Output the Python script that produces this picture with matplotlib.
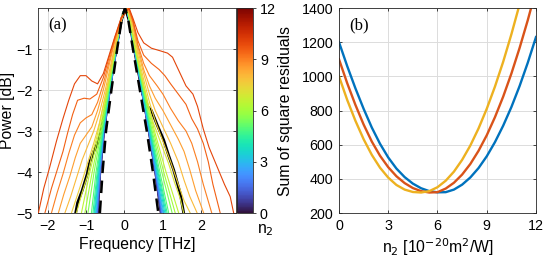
import numpy as np
import matplotlib
matplotlib.use("Agg")
import matplotlib.pyplot as plt
from matplotlib import cm, colors

plt.rcParams['font.family'] = ['Liberation Sans', 'DejaVu Sans']

# ---------------------------------------------------------------
# panel (a): simulated spectra for different n2
# ---------------------------------------------------------------
INNER_N2 = [0, 0.5, 1, 1.5, 2, 2.5, 3, 3.5, 4, 4.5, 5, 5.5, 6, 6.5]
INNER_DB = [0, -0.1, -0.3, -1, -2, -3, -4, -5]
INNER_LEFT = [
    [0.03, -0.03, -0.08, -0.20, -0.37, -0.52, -0.62, -0.68],
    [0.03, -0.03, -0.08, -0.20, -0.37, -0.52, -0.62, -0.69],
    [0.03, -0.03, -0.08, -0.20, -0.37, -0.53, -0.63, -0.70],
    [0.03, -0.03, -0.08, -0.21, -0.38, -0.53, -0.63, -0.71],
    [0.03, -0.03, -0.08, -0.21, -0.38, -0.54, -0.64, -0.72],
    [0.03, -0.03, -0.08, -0.21, -0.38, -0.54, -0.65, -0.73],
    [0.03, -0.03, -0.08, -0.21, -0.39, -0.55, -0.66, -0.75],
    [0.03, -0.03, -0.09, -0.22, -0.39, -0.55, -0.67, -0.77],
    [0.03, -0.03, -0.09, -0.22, -0.40, -0.56, -0.69, -0.79],
    [0.04, -0.03, -0.09, -0.22, -0.40, -0.57, -0.71, -0.82],
    [0.04, -0.03, -0.09, -0.23, -0.41, -0.58, -0.74, -0.86],
    [0.04, -0.03, -0.09, -0.23, -0.42, -0.60, -0.79, -0.95],
    [0.04, -0.03, -0.09, -0.23, -0.43, -0.62, -0.84, -1.03],
    [0.05, -0.02, -0.09, -0.24, -0.44, -0.65, -0.90, -1.12],
]
INNER_RIGHT = [
    [0.03, 0.08, 0.12, 0.25, 0.44, 0.62, 0.79, 0.93],
    [0.03, 0.08, 0.12, 0.25, 0.44, 0.62, 0.79, 0.94],
    [0.03, 0.08, 0.12, 0.25, 0.44, 0.63, 0.80, 0.95],
    [0.03, 0.08, 0.12, 0.25, 0.45, 0.63, 0.80, 0.96],
    [0.03, 0.08, 0.12, 0.26, 0.45, 0.64, 0.81, 0.98],
    [0.03, 0.08, 0.12, 0.26, 0.45, 0.64, 0.82, 1.00],
    [0.03, 0.08, 0.12, 0.26, 0.46, 0.65, 0.83, 1.02],
    [0.03, 0.08, 0.13, 0.26, 0.46, 0.66, 0.85, 1.05],
    [0.03, 0.08, 0.13, 0.27, 0.47, 0.67, 0.87, 1.08],
    [0.04, 0.09, 0.13, 0.27, 0.48, 0.68, 0.89, 1.11],
    [0.04, 0.09, 0.13, 0.27, 0.49, 0.70, 0.92, 1.15],
    [0.04, 0.09, 0.13, 0.28, 0.50, 0.72, 0.97, 1.24],
    [0.04, 0.09, 0.14, 0.28, 0.51, 0.75, 1.02, 1.32],
    [0.05, 0.10, 0.14, 0.29, 0.53, 0.78, 1.08, 1.41],
]

# outer curves: (freq, dB) pairs, left foot -> peak -> right foot
OUTER_N2 = [7, 7.5, 8, 8.5, 9, 9.5, 10]
OUTER_F = [
    [-1.25, -1.10, -0.95, -0.85, -0.72, -0.60, -0.46, -0.32, -0.18, -0.06, 0.06,
     0.17, 0.30, 0.45, 0.60, 0.75, 0.95, 1.15, 1.30, 1.45, 1.54],
    [-1.38, -1.22, -1.08, -0.95, -0.80, -0.65, -0.50, -0.35, -0.20, -0.06, 0.07,
     0.21, 0.35, 0.50, 0.65, 0.80, 1.00, 1.20, 1.40, 1.55, 1.71],
    [-1.55, -1.40, -1.25, -1.10, -0.95, -0.80, -0.65, -0.50, -0.35, -0.20, -0.06, 0.08,
     0.21, 0.35, 0.50, 0.65, 0.80, 1.00, 1.20, 1.40, 1.55, 1.70, 1.89],
    [-1.72, -1.58, -1.42, -1.28, -1.15, -1.00, -0.85, -0.70, -0.55, -0.40, -0.25, -0.08, 0.09,
     0.22, 0.35, 0.50, 0.65, 0.80, 1.00, 1.20, 1.40, 1.55, 1.70, 1.85, 2.06],
    [-1.90, -1.75, -1.60, -1.45, -1.30, -1.15, -1.00, -0.85, -0.70, -0.55, -0.40, -0.25, -0.08, 0.10,
     0.22, 0.35, 0.50, 0.65, 0.85, 1.00, 1.20, 1.40, 1.60, 1.75, 1.90, 2.05, 2.27],
    [-2.07, -1.90, -1.75, -1.60, -1.48, -1.35, -1.22, -1.05, -0.90, -0.72, -0.55, -0.40, -0.25, -0.08, 0.11,
     0.22, 0.35, 0.50, 0.70, 0.90, 1.05, 1.20, 1.40, 1.60, 1.75, 1.90, 2.05, 2.18, 2.30, 2.49],
    [-2.24, -2.10, -1.95, -1.77, -1.60, -1.45, -1.30, -1.15, -1.00, -0.85, -0.70, -0.55, -0.40, -0.25, -0.08, 0.12,
     0.22, 0.35, 0.50, 0.70, 0.95, 1.12, 1.25, 1.40, 1.60, 1.78, 1.90, 2.05, 2.20, 2.40, 2.60, 2.75, 2.84],
]
OUTER_DB = [
    [-5.0, -4.50, -4.05, -3.60, -3.15, -2.60, -2.00, -1.35, -0.70, -0.20, 0.0,
     -0.35, -1.05, -1.70, -2.30, -2.80, -3.30, -3.80, -4.25, -4.65, -5.0],
    [-5.0, -4.55, -4.15, -3.75, -3.30, -2.80, -2.15, -1.45, -0.75, -0.22, 0.0,
     -0.40, -1.15, -1.75, -2.30, -2.75, -3.25, -3.75, -4.30, -4.70, -5.0],
    [-5.0, -4.60, -4.15, -3.70, -3.35, -3.00, -2.55, -2.00, -1.35, -0.70, -0.22, 0.0,
     -0.40, -1.05, -1.60, -2.10, -2.50, -2.90, -3.30, -3.75, -4.20, -4.60, -5.0],
    [-5.0, -4.55, -4.10, -3.65, -3.30, -3.10, -2.90, -2.50, -2.00, -1.40, -0.80, -0.25, 0.0,
     -0.35, -0.95, -1.50, -1.90, -2.20, -2.50, -2.85, -3.20, -3.50, -3.95, -4.45, -5.0],
    [-5.0, -4.50, -4.05, -3.55, -3.10, -2.80, -2.68, -2.60, -2.30, -1.85, -1.30, -0.77, -0.25, 0.0,
     -0.32, -0.90, -1.35, -1.65, -1.90, -2.10, -2.45, -2.75, -3.00, -3.30, -3.75, -4.30, -5.0],
    [-5.0, -4.40, -3.95, -3.50, -3.05, -2.60, -2.25, -2.20, -2.22, -2.10, -1.70, -1.20, -0.72, -0.25, 0.0,
     -0.30, -0.80, -1.15, -1.35, -1.50, -1.65, -1.85, -2.10, -2.35, -2.70, -2.95, -3.30, -3.75, -4.30, -5.0],
    [-5.0, -4.40, -3.90, -3.25, -2.70, -2.25, -1.85, -1.65, -1.65, -1.78, -1.85, -1.60, -1.15, -0.70, -0.22, 0.0,
     -0.25, -0.60, -0.85, -0.98, -1.05, -1.10, -1.20, -1.50, -1.90, -2.10, -2.40, -2.95, -3.40, -3.85, -4.30, -4.60, -5.0],
]

# measured output spectrum (black) and input spectrum (dashed)
MEAS_F = [-1.27, -1.22, -1.10, -0.97, -0.90, -0.80, -0.70, -0.62, -0.52, -0.41, -0.30, -0.20, -0.08, 0.02,
          0.12, 0.24, 0.36, 0.48, 0.60, 0.70, 0.85, 1.02, 1.15, 1.28, 1.45, 1.54]
MEAS_DB = [-5.0, -4.75, -4.45, -4.05, -3.75, -3.50, -3.30, -3.05, -2.60, -2.00, -1.40, -0.90, -0.30, 0.0,
           -0.30, -0.90, -1.55, -2.10, -2.40, -2.50, -2.85, -3.22, -3.60, -3.95, -4.52, -5.0]
INPUT_F = [-0.64, -0.57, -0.48, -0.34, -0.19, -0.06, 0.02, 0.10, 0.22, 0.40, 0.58, 0.74, 0.88]
INPUT_DB = [-5.0, -4.0, -3.0, -2.0, -1.0, -0.2, 0.0, -0.3, -1.0, -2.0, -3.0, -4.0, -5.0]

# ---------------------------------------------------------------
# panel (b): sum of square residuals vs n2
# ---------------------------------------------------------------
RES_BLUE_X = [0, 0.5, 1, 1.5, 2, 2.5, 3, 3.5, 4, 4.5, 5, 5.5, 6, 6.5, 7, 7.5, 8, 8.5, 9, 9.5,
              10, 10.5, 11, 11.5, 12]
RES_BLUE_Y = [1200, 1060, 930, 810, 700, 605, 525, 460, 410, 372, 345, 328, 321, 322, 337, 366, 408, 463,
              532, 615, 711, 820, 943, 1080, 1230]
RES_RED_X = [0, 0.5, 1, 1.5, 2, 2.5, 3, 3.5, 4, 4.5, 5, 5.5, 6, 6.5, 7, 7.5, 8, 8.5, 9, 9.5,
             10, 10.5, 11, 11.5, 11.7]
RES_RED_Y = [1100, 960, 833, 718, 618, 535, 468, 415, 375, 346, 328, 320, 322, 343, 377, 425, 487, 564,
             655, 761, 881, 1016, 1166, 1329, 1400]
RES_YEL_X = [0, 0.5, 1, 1.5, 2, 2.5, 3, 3.5, 4, 4.5, 5, 5.5, 6, 6.5, 7, 7.5, 8, 8.5, 9, 9.5,
             10, 10.5, 10.94]
RES_YEL_Y = [1000, 862, 740, 632, 540, 465, 407, 364, 337, 323, 320, 328, 351, 389, 442, 511, 595, 695,
             810, 940, 1085, 1246, 1400]

EDGE = '#262626'
GRID = '#dcdcdc'
FS_TICK = 10.3
FS_LAB = 11.3

fig = plt.figure(figsize=(5.48, 2.61), dpi=100)
ax1 = fig.add_axes([0.0693, 0.1839, 0.3613, 0.7854])
cax = fig.add_axes([0.4325, 0.1839, 0.0292, 0.7854])
ax2 = fig.add_axes([0.6186, 0.1839, 0.3595, 0.7854])

cmap = plt.get_cmap('turbo')
norm = colors.Normalize(vmin=0, vmax=12)

# measured spectrum under the simulated ones, input spectrum on top
ax1.plot(MEAS_F, MEAS_DB, color='k', lw=2.0, zorder=2)
for n2, left, right in zip(INNER_N2, INNER_LEFT, INNER_RIGHT):
    f = left[::-1] + right[1:]
    db = INNER_DB[::-1] + INNER_DB[1:]
    ax1.plot(f, db, color=cmap(norm(n2)), lw=0.8, zorder=3)
for n2, f, db in zip(OUTER_N2, OUTER_F, OUTER_DB):
    ax1.plot(f, db, color=cmap(norm(n2)), lw=0.8, zorder=3)
ax1.plot(INPUT_F, INPUT_DB, color='k', lw=1.8, dashes=(5, 3), zorder=4)

ax1.set_xlim(-2.25, 2.9)
ax1.set_ylim(-5, 0)
ax1.set_xticks([-2, -1, 0, 1, 2])
ax1.set_yticks([-1, -2, -3, -4, -5])
ax1.set_xlabel('Frequency [THz]', fontsize=FS_LAB, labelpad=3)
ax1.set_ylabel('Power [dB]', fontsize=FS_LAB)
ax1.yaxis.set_label_coords(-0.118, 0.5)
ax1.text(0.05, 0.915, '(a)', transform=ax1.transAxes, fontsize=12,
         family='Liberation Serif', va='center')

sm = cm.ScalarMappable(norm=norm, cmap=cmap)
cb = fig.colorbar(sm, cax=cax, ticks=[0, 3, 6, 9, 12])
cb.outline.set_edgecolor(EDGE)
cb.outline.set_linewidth(0.6)
cax.tick_params(labelsize=FS_TICK, length=2, width=0.6, color=EDGE, pad=3)
cax.text(1.25, -0.045, 'n$_2$', transform=cax.transAxes, fontsize=FS_LAB,
         ha='left', va='top')

ax2.plot(RES_BLUE_X, RES_BLUE_Y, color='#0072BD', lw=1.7)
ax2.plot(RES_RED_X, RES_RED_Y, color='#D95319', lw=1.7)
ax2.plot(RES_YEL_X, RES_YEL_Y, color='#EDB120', lw=1.7)
ax2.set_xlim(0, 12)
ax2.set_ylim(200, 1400)
ax2.set_xticks([0, 3, 6, 9, 12])
ax2.set_yticks(range(200, 1401, 200))
ax2.set_xlabel('n$_2$ [10$^{-20}$m$^2$/W]', fontsize=FS_LAB, labelpad=3)
ax2.set_ylabel('Sum of square residuals', fontsize=FS_LAB)
ax2.yaxis.set_label_coords(-0.234, 0.5)
ax2.text(0.05, 0.915, '(b)', transform=ax2.transAxes, fontsize=12,
         family='Liberation Serif', va='center')

for ax in (ax1, ax2):
    ax.grid(True, color=GRID, lw=0.7)
    ax.set_axisbelow(True)
    ax.tick_params(direction='in', length=2.5, width=0.6, labelsize=FS_TICK,
                   color=EDGE, labelcolor='k', pad=4, top=True, right=True)
    for sp in ax.spines.values():
        sp.set_edgecolor(EDGE)
        sp.set_linewidth(0.6)

fig.savefig('out.png', dpi=100)
